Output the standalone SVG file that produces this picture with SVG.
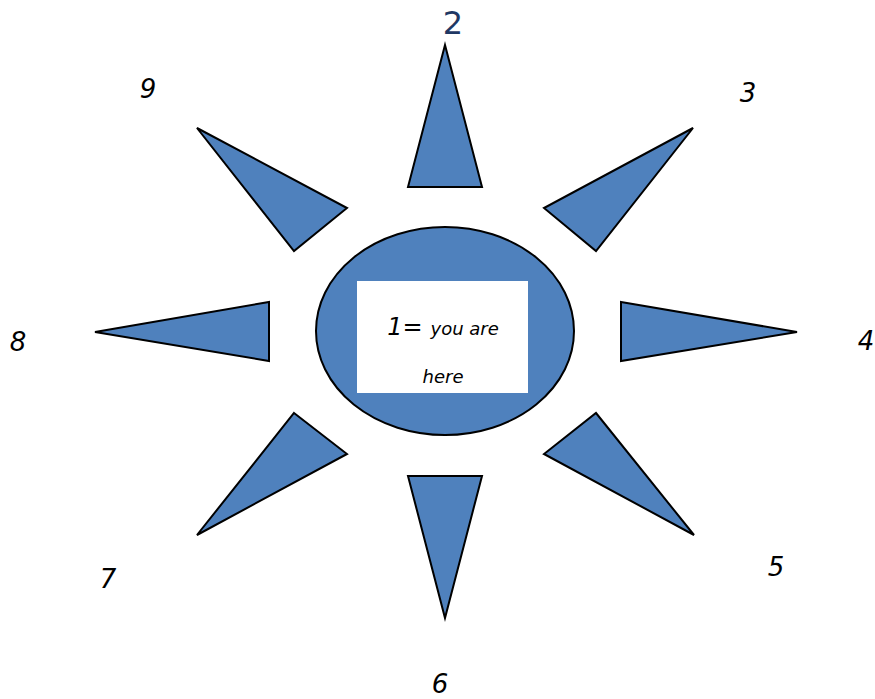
<svg xmlns="http://www.w3.org/2000/svg" width="875" height="699" viewBox="0 0 875 699">
<style>
.ray{fill:#4f81bd;stroke:#000;stroke-width:2;stroke-linejoin:miter}
.lbl{font-family:"Comic Sans MS","DejaVu Sans",sans-serif;font-style:italic;font-size:26px;fill:#000;text-anchor:middle}
.in{font-family:"Comic Sans MS","DejaVu Sans",sans-serif;font-style:italic;fill:#000;text-anchor:middle}
</style>
<rect width="875" height="699" fill="#fff"/>
<g id="center">
<ellipse cx="445" cy="331" rx="129" ry="104" fill="#4f81bd" stroke="#000" stroke-width="2"/>
<rect x="357" y="281" width="171" height="112" fill="#fff"/>
<text class="in" x="443" y="335"><tspan font-size="24">1=</tspan><tspan font-size="18" dx="8">you are</tspan></text>
<text class="in" x="443" y="383" font-size="18">here</text>
</g>
<g id="ray2"><polygon class="ray" points="445,45 482,187 408,187"/><text x="453" y="34" font-family="'Comic Sans MS','DejaVu Sans',sans-serif" font-size="32" fill="#1f3864" text-anchor="middle">2</text></g>
<g id="ray3"><polygon class="ray" points="693,128 544,208 596,251"/><text class="lbl" x="748" y="102">3</text></g>
<g id="ray4"><polygon class="ray" points="621,302 797,332 621,361"/><text class="lbl" x="866" y="350">4</text></g>
<g id="ray5"><polygon class="ray" points="596,413 694,535 544,454"/><text class="lbl" x="776" y="576">5</text></g>
<g id="ray6"><polygon class="ray" points="408,476 482,476 445,618"/><text class="lbl" x="440" y="693">6</text></g>
<g id="ray7"><polygon class="ray" points="294,413 347,454 197,535"/><text class="lbl" x="108" y="588">7</text></g>
<g id="ray8"><polygon class="ray" points="269,302 269,361 95,332"/><text class="lbl" x="18" y="351">8</text></g>
<g id="ray9"><polygon class="ray" points="197,128 347,208 294,251"/><text class="lbl" x="148" y="98">9</text></g>
<g id="connectors"/>
</svg>
